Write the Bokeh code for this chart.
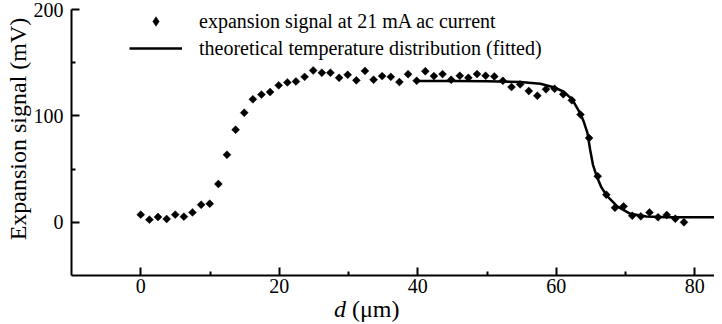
import math
from bokeh.plotting import figure
from bokeh.layouts import column
from bokeh.models import (ColumnDataSource, FixedTicker, Legend, LegendItem,
                          Range1d, Div)
from bokeh.embed import file_html
from bokeh.resources import INLINE

# --- data ------------------------------------------------------------------
d_um = [0.0, 1.25, 2.49, 3.74, 4.98, 6.23, 7.47, 8.72, 9.96, 11.21,
        12.45, 13.7, 14.94, 16.19, 17.43, 18.68, 19.92, 21.17, 22.41, 23.66,
        24.9, 26.15, 27.39, 28.64, 29.88, 31.13, 32.37, 33.62, 34.86, 36.11,
        37.35, 38.6, 39.84, 41.09, 42.33, 43.58, 44.82, 46.07, 47.31, 48.56,
        49.8, 51.05, 52.29, 53.54, 54.78, 56.03, 57.27, 58.52, 59.76, 61.01,
        62.25, 63.5, 64.74, 65.99, 67.23, 68.48, 69.72, 70.97, 72.21, 73.46,
        74.7, 75.95, 77.19, 78.44]
signal_mV = [7.2, 2.5, 5.0, 3.1, 7.2, 5.3, 9.3, 16.5, 17.5, 36.0,
             63.5, 87.0, 103.0, 115.6, 120.0, 122.4, 128.7, 131.5, 132.4, 136.7,
             142.7, 140.5, 140.5, 135.8, 138.6, 133.4, 142.3, 134.0, 137.4, 136.7,
             131.8, 139.2, 133.0, 142.0, 137.4, 139.3, 134.0, 137.7, 135.8, 139.3,
             137.7, 137.1, 133.0, 127.1, 129.6, 123.4, 119.0, 125.0, 125.5, 120.3,
             114.7, 101.2, 79.2, 43.3, 25.9, 13.7, 15.0, 6.2, 5.6, 9.3,
             4.7, 6.9, 3.4, 0.0]

fit_d = [39.8, 45.0, 50.0, 54.8, 57.7, 59.6, 61.1, 62.3, 63.5, 64.0,
         64.5, 64.9, 65.3, 65.8, 66.5, 67.3, 68.8, 70.7, 73.0, 76.0, 84.0]
fit_mV = [132.7, 132.8, 132.6, 131.8, 130.2, 127.0, 122.7, 115.6, 102.0, 94.0,
          84.0, 68.0, 54.0, 44.0, 33.0, 25.0, 15.0, 8.0, 5.5, 4.8, 4.8]

x_ticks = [0, 20, 40, 60, 80]
x_minor = [10, 30, 50, 70]
y_ticks = [0, 100, 200]
y_minor = [50, 150]

legend_labels = ["expansion signal at 21 mA ac current",
                 "theoretical temperature distribution (fitted)"]
y_title = "Expansion signal (mV)"

FONT = "Liberation Serif"

p = figure(width=714, height=302, output_backend="svg", toolbar_location=None,
           x_range=Range1d(-10, 82.85), y_range=Range1d(-50, 200),
           min_border_left=71, min_border_right=0, min_border_top=9,
           min_border_bottom=27)
p.outline_line_color = None
p.grid.visible = False
p.background_fill_color = "white"
p.border_fill_color = "white"

pts = ColumnDataSource(dict(x=d_um, y=signal_mV))
fit = ColumnDataSource(dict(x=fit_d, y=fit_mV))

r_fit = p.line("x", "y", source=fit, line_color="black", line_width=2.5)
r_pts = p.scatter("x", "y", source=pts, marker="square", size=5.6,
                  angle=math.pi / 4, fill_color="black", line_color="black",
                  line_width=0.5)
# legend-only glyph (a NaN point, never drawn in the plot): diamond symbol
r_leg = p.scatter(x=[float("nan")], y=[float("nan")], marker="diamond",
                  fill_color="black", line_color="black", line_width=0.5)

for ax in (p.xaxis[0], p.yaxis[0]):
    ax.axis_line_width = 2
    ax.axis_line_color = "black"
    ax.major_tick_line_width = 2
    ax.minor_tick_line_width = 2
    ax.major_tick_line_color = "black"
    ax.minor_tick_line_color = "black"
    ax.major_tick_in = 8
    ax.major_tick_out = 0
    ax.minor_tick_in = 4
    ax.minor_tick_out = 0
    ax.major_label_text_font = FONT
    ax.major_label_text_font_size = "20px"
    ax.major_label_text_color = "black"

p.xaxis[0].ticker = FixedTicker(ticks=x_ticks, minor_ticks=x_minor)
p.yaxis[0].ticker = FixedTicker(ticks=y_ticks, minor_ticks=y_minor)
p.xaxis[0].major_label_standoff = 3
p.yaxis[0].major_label_standoff = 8

legend = Legend(items=[LegendItem(label=legend_labels[0], renderers=[r_leg]),
                       LegendItem(label=legend_labels[1], renderers=[r_fit])],
                location=(58, 215), orientation="vertical")
legend.border_line_color = None
legend.background_fill_alpha = 0
legend.padding = 0
legend.margin = 0
legend.spacing = 3
legend.glyph_width = 53
legend.glyph_height = 24
legend.label_height = 24
legend.label_standoff = 17
legend.label_text_font = FONT
legend.label_text_font_size = "20px"
legend.label_text_color = "black"
p.add_layout(legend)

title_font = "font-family:'Liberation Serif'; font-size:24px; color:black; white-space:nowrap;"
titles = Div(text=(
    '<div style="position:relative; width:0; height:0;">'
    '<div style="position:absolute; left:18px; top:-173px; line-height:24px; '
    'transform:translate(-50%,-50%) rotate(-90deg); ' + title_font + '">'
    + y_title + '</div></div>'
    '<div style="position:relative; top:-3px; left:334px; line-height:20px; '
    + title_font + '"><i>d</i> (μm)</div>'),
    width=714, height=14, margin=(0, 0, 0, 0))

layout = column(p, titles, spacing=0)

open("out.html", "w").write(file_html(layout, INLINE))
